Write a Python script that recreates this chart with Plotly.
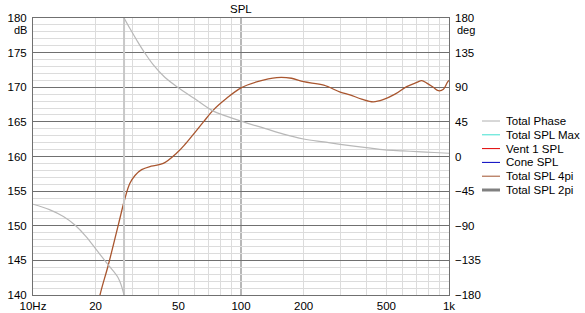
import plotly.graph_objects as go

# ---- data ----
phase_lo_freq = [10, 12, 14, 15.9, 18, 20.2, 23, 25.7, 27.4]
phase_lo_deg = [-62, -69, -78, -89, -104, -121.5, -141, -158, -180]
phase_hi_freq = [27.4, 29.2, 31.5, 34, 37.9, 43, 50, 60, 73.6, 85, 100, 130, 160,
                 200, 250, 300, 400, 492, 600, 700, 850, 1000]
phase_hi_deg = [180, 166.6, 151.4, 137, 119, 103, 89.4, 75, 59, 52.5, 46, 36.5, 29,
                22.7, 18.9, 15.8, 11.5, 8.5, 7.3, 6.3, 5.2, 4.2]
phase_wrap_freq = [27.4, 27.4]
phase_wrap_deg = [-180, 180]

spl_freq = [20, 21, 23, 25.7, 27.7, 29.2, 31, 33.3, 37, 42.3, 49.1, 54, 59, 66,
            73.6, 85.3, 100, 120, 148.6, 175, 200, 250, 300, 334, 380, 432, 482,
            550, 626, 700, 740, 782, 840, 889, 940, 982, 1000]
spl_db = [136.5, 140, 144.3, 150.1, 154.0, 156.1, 157.3, 158.1, 158.6, 159.0,
          160.5, 161.8, 163.2, 165.0, 166.7, 168.4, 169.9, 170.8, 171.4, 171.3,
          170.8, 170.3, 169.3, 168.9, 168.3, 167.9, 168.2, 169.0, 170.1, 170.7,
          170.95, 170.6, 170.0, 169.5, 169.7, 170.7, 171.0]

x_tickvals = [10, 20, 50, 100, 200, 500, 1000]
x_ticktext = ["10Hz", "20", "50", "100", "200", "500", "1k"]
x_minor = [20, 30, 40, 50, 60, 70, 80, 90, 200, 300, 400, 500, 600, 700, 800, 900]
db_ticks = [140, 145, 150, 155, 160, 165, 170, 175, 180]
deg_ticks = [-180, -135, -90, -45, 0, 45, 90, 135, 180]

legend_names = ["Total Phase", "Total SPL Max", "Vent 1 SPL", "Cone SPL",
                "Total SPL 4pi", "Total SPL 2pi"]
legend_colors = ["#b0b0b0", "#40e0d0", "#e00000", "#0000c0", "#a0522d", "#808080"]
legend_widths = [1, 1, 1, 1, 1, 3]

# ---- styling ----
FONT = "Liberation Sans, Arial, sans-serif"
FS = 11.5
DARK = "#707070"
LIGHT = "#dcdcdc"
W, H = 585, 313
L, R, T, B = 33, 136, 18, 18
PW, PH = W - L - R, H - T - B


def px_x(px):
    return (px - L) / PW


def px_y(py):
    return (H - B - py) / PH


fig = go.Figure()
fig.add_trace(go.Scatter(x=phase_wrap_freq, y=phase_wrap_deg, yaxis="y2", mode="lines",
                         line=dict(color="#c8c8c8", width=2), showlegend=False,
                         hoverinfo="skip"))
fig.add_trace(go.Scatter(x=phase_lo_freq, y=phase_lo_deg, yaxis="y2", mode="lines",
                         line=dict(color="#b8b8b8", width=1.2, shape="spline",
                                   smoothing=1.0),
                         showlegend=False, name="Total Phase"))
fig.add_trace(go.Scatter(x=phase_hi_freq, y=phase_hi_deg, yaxis="y2", mode="lines",
                         line=dict(color="#b8b8b8", width=1.2, shape="spline",
                                   smoothing=1.0),
                         showlegend=False, name="Total Phase"))
fig.add_trace(go.Scatter(x=spl_freq, y=spl_db, mode="lines",
                         line=dict(color="#a9562f", width=1.3, shape="spline",
                                   smoothing=1.0),
                         showlegend=False, name="Total SPL 4pi"))

shapes = [dict(type="line", xref="x", yref="paper", x0=100, x1=100, y0=0, y1=1,
               line=dict(color=DARK, width=1), layer="between")]
annotations = [
    dict(text="SPL", xref="paper", yref="paper", x=0.5, y=px_y(9), showarrow=False,
         xanchor="center", yanchor="middle", font=dict(size=FS, color="black", family=FONT)),
    dict(text="dB", xref="paper", yref="paper", x=px_x(29), y=px_y(29.5), showarrow=False,
         xanchor="right", yanchor="middle", font=dict(size=11, color="black", family=FONT)),
    dict(text="deg", xref="paper", yref="paper", x=px_x(455), y=px_y(29.5), showarrow=False,
         xanchor="left", yanchor="middle", font=dict(size=11, color="black", family=FONT)),
]
for i, (name, col, wd) in enumerate(zip(legend_names, legend_colors, legend_widths)):
    py = 121 + 13.8 * i
    shapes.append(dict(type="line", xref="paper", yref="paper",
                       x0=px_x(482), x1=px_x(500), y0=px_y(py), y1=px_y(py),
                       line=dict(color=col, width=wd)))
    annotations.append(dict(text=name, xref="paper", yref="paper", x=px_x(504),
                            y=px_y(py), showarrow=False, xanchor="left", yanchor="middle",
                            font=dict(size=FS, color="black", family=FONT)))

fig.update_layout(
    width=W, height=H,
    margin=dict(l=L, r=R, t=T, b=B, pad=0),
    paper_bgcolor="white", plot_bgcolor="white",
    font=dict(family=FONT, size=FS, color="black"),
    showlegend=False,
    xaxis=dict(type="log", range=[1, 3], tickvals=x_tickvals, ticktext=x_ticktext,
               showgrid=False, zeroline=False, ticks="", showline=True, mirror=True,
               linecolor=DARK, linewidth=1, ticklabelstandoff=0, automargin=False,
               minor=dict(tickmode="array", tickvals=x_minor, showgrid=True,
                          gridcolor=LIGHT, gridwidth=1, ticks="")),
    yaxis=dict(range=[140, 180], tickvals=db_ticks, showgrid=True, gridcolor=DARK,
               gridwidth=1, zeroline=False, ticks="", showline=True, mirror=True,
               linecolor=DARK, linewidth=1, ticklabelstandoff=3, automargin=False,
               minor=dict(dtick=1, showgrid=True, gridcolor=LIGHT, gridwidth=1, ticks="")),
    yaxis2=dict(range=[-180, 180], tickvals=deg_ticks, overlaying="y", side="right",
                showgrid=False, zeroline=False, ticks="", showline=False,
                ticklabelstandoff=5, automargin=False),
    shapes=shapes,
    annotations=annotations,
)

fig.write_html("out.html")
